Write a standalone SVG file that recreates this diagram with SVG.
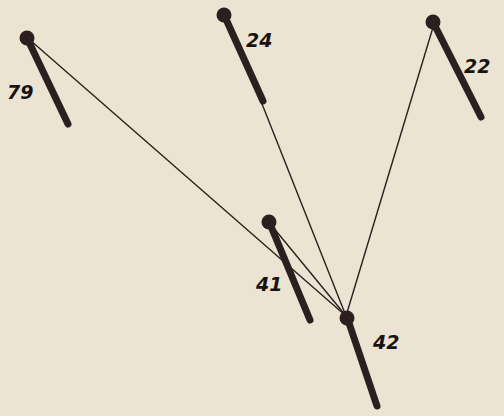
<svg xmlns="http://www.w3.org/2000/svg" width="504" height="416" viewBox="0 0 504 416">
<style>
.shaft{stroke:#2b1f1f;stroke-width:7;stroke-linecap:round;fill:none}
.head{fill:#2b1f1f}
.cord{stroke:#2b1f1f;stroke-width:1.4;fill:none}
.lbl{font-family:"DejaVu Sans",sans-serif;font-style:italic;font-weight:bold;font-size:19px;fill:#1a1212}
</style>
<rect width="504" height="416" fill="#ebe4d2"/>
<g id="connectors">
<line class="cord" x1="346" y1="316" x2="30" y2="40"/>
<line class="cord" x1="346" y1="316" x2="228" y2="18"/>
<line class="cord" x1="346" y1="316" x2="434" y2="24"/>
<line class="cord" x1="346" y1="316" x2="272" y2="226"/>
</g>
<g id="pin79">
<line class="shaft" x1="28" y1="40" x2="68" y2="124"/>
<circle class="head" cx="27" cy="38" r="7.5"/>
<text class="lbl" x="7" y="99">79</text>
</g>
<g id="pin24">
<line class="shaft" x1="225" y1="17" x2="263" y2="101"/>
<circle class="head" cx="224" cy="15" r="7.5"/>
<text class="lbl" x="246" y="47">24</text>
</g>
<g id="pin22">
<line class="shaft" x1="434" y1="24" x2="481" y2="117"/>
<circle class="head" cx="433" cy="22" r="7.5"/>
<text class="lbl" x="464" y="73">22</text>
</g>
<g id="pin41">
<line class="shaft" x1="270" y1="224" x2="310" y2="320"/>
<circle class="head" cx="269" cy="222" r="7.5"/>
<text class="lbl" x="256" y="291">41</text>
</g>
<g id="pin42">
<line class="shaft" x1="348" y1="320" x2="377" y2="406"/>
<circle class="head" cx="347" cy="318" r="7.5"/>
<text class="lbl" x="373" y="349">42</text>
</g>
</svg>
